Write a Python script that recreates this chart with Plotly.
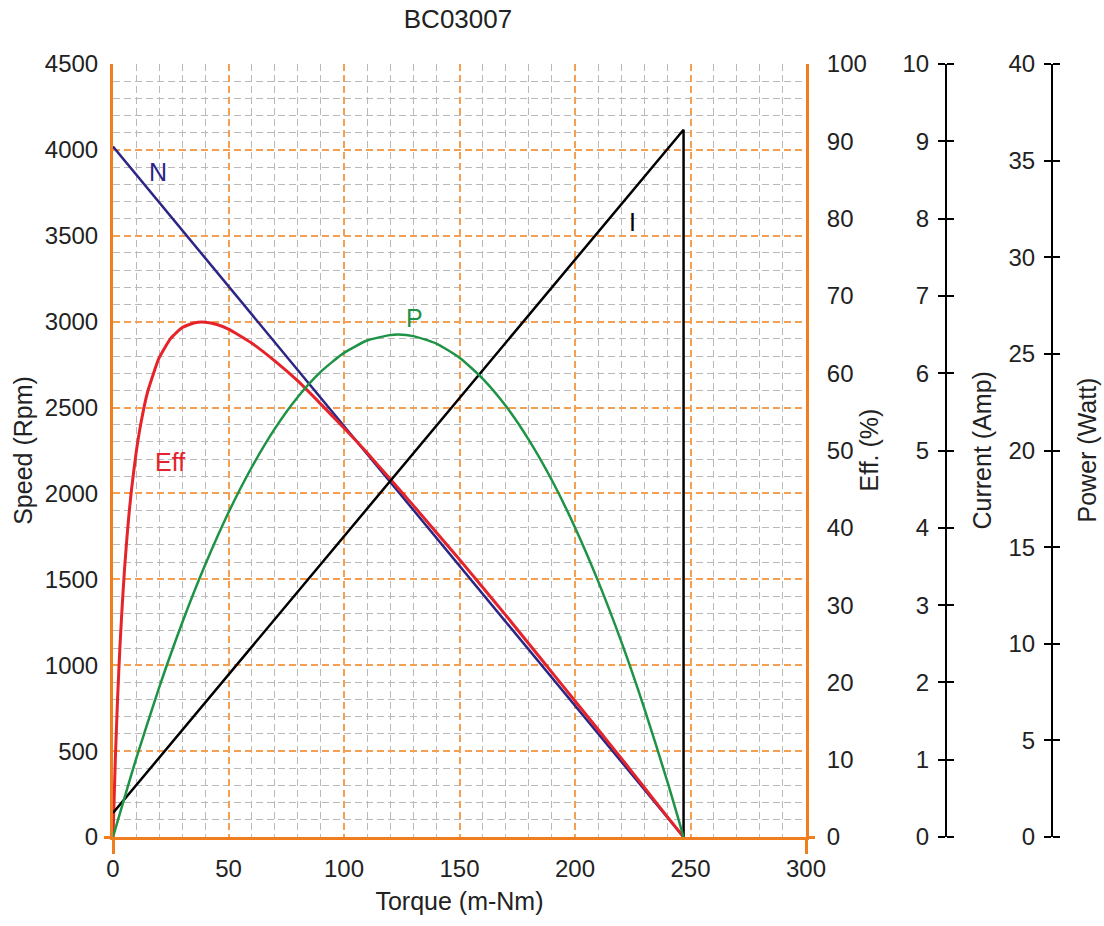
import plotly.graph_objects as go

# Motor performance curves for the BC03007 drive
torque_line = [0, 247]            # m-Nm
speed_rpm = [4020, 0]             # no-load speed to stall

current_torque = [0, 247, 247]    # current rises linearly, drops at stall
current_amp = [0.31, 9.15, 0]

eff_torque = [0, 1, 2, 3, 4, 5, 6, 7, 8, 10, 12, 15, 20, 25, 30, 35, 40, 45, 50,
              60, 70, 80, 90, 100, 110, 120, 130, 140, 150, 160, 170, 180, 190,
              200, 210, 220, 230, 240, 247]
eff_pct = [0, 10.0, 18.0, 24.6, 30.0, 34.7, 38.6, 42.0, 44.9, 49.7, 53.4, 57.6,
           62.0, 64.5, 65.9, 66.5, 66.6, 66.3, 65.7, 63.9, 61.6, 59.0, 56.0,
           52.9, 49.7, 46.3, 42.9, 39.4, 35.9, 32.3, 28.7, 25.0, 21.3, 17.6,
           13.9, 10.2, 6.4, 2.6, 0]

power_torque = [0, 10, 20, 30, 40, 50, 60, 70, 80, 90, 100, 110, 120, 123.5,
                130, 140, 150, 160, 170, 180, 190, 200, 210, 220, 230, 240, 247]
power_w = [0, 4.04, 7.74, 11.10, 14.11, 16.79, 19.12, 21.12, 22.77, 24.08,
           25.05, 25.69, 25.97, 26.0, 25.92, 25.53, 24.80, 23.72, 22.31, 20.55,
           18.46, 16.02, 13.24, 10.12, 6.66, 2.86, 0]

speed_ticks = list(range(0, 4501, 500))
torque_ticks = list(range(0, 301, 50))

ORANGE = "#f07d1e"
ORANGE_GRID = "#f3a055"
GRAY_GRID = "#b9b9b9"
TXT = "#222222"
FONT = "Liberation Sans, Arial, sans-serif"
TICK_SIZE = 24
TITLE_SIZE = 25

NAVY = "#2b2585"
RED = "#e5232b"
GREEN = "#1e9346"
CLEAR = "rgba(0,0,0,0)"

# plot area spans 113..806 px horizontally inside a 113..1060 px paper region
PAPER_W = 1104 - 113 - 44
X_END = 693 / PAPER_W
CUR_POS = (946 - 113) / PAPER_W
PWR_POS = (1052 - 113) / PAPER_W


def px(x_pixel):
    return (x_pixel - 113) / PAPER_W


fig = go.Figure()

fig.add_trace(go.Scatter(x=current_torque, y=current_amp, yaxis="y3", mode="lines",
                         line=dict(color="black", width=2.5), hoverinfo="skip"))
fig.add_trace(go.Scatter(x=power_torque, y=power_w, yaxis="y5", mode="lines",
                         line=dict(color=GREEN, width=2.5, shape="spline", smoothing=0.6),
                         hoverinfo="skip"))
fig.add_trace(go.Scatter(x=torque_line, y=speed_rpm, yaxis="y", mode="lines",
                         line=dict(color=NAVY, width=2.5), hoverinfo="skip"))
fig.add_trace(go.Scatter(x=eff_torque, y=eff_pct, yaxis="y2", mode="lines",
                         line=dict(color=RED, width=3, shape="spline", smoothing=0.5),
                         hoverinfo="skip"))

# transparent carriers so the helper axes (cross ticks, corner ticks) get drawn
for xa, ya, xs, ys in [("x", "y4", current_torque, current_amp),
                       ("x", "y6", power_torque, power_w),
                       ("x", "y7", torque_line, speed_rpm),
                       ("x", "y8", eff_torque, eff_pct),
                       ("x2", "y", torque_line, speed_rpm)]:
    fig.add_trace(go.Scatter(x=xs, y=ys, xaxis=xa, yaxis=ya, mode="lines",
                             line=dict(color=CLEAR, width=0), hoverinfo="skip"))

tickfont = dict(family=FONT, size=TICK_SIZE, color=TXT)
titlefont = dict(family=FONT, size=TITLE_SIZE, color=TXT)

fig.update_layout(
    width=1104, height=926,
    margin=dict(l=113, r=44, t=64, b=89),
    paper_bgcolor="white", plot_bgcolor="white",
    showlegend=False,
    title=dict(text="BC03007", x=px(458), xref="paper", xanchor="center",
               y=1 - 19 / 926, yref="container", yanchor="middle",
               font=dict(family=FONT, size=26, color=TXT)),
    xaxis=dict(domain=[0, X_END], range=[0, 300], tickvals=torque_ticks,
               showgrid=True, gridcolor=ORANGE_GRID, gridwidth=1.5, griddash="7px,4px",
               minor=dict(dtick=10, ticks="", showgrid=True, gridcolor=GRAY_GRID,
                          gridwidth=1.2, griddash="7px,4px"),
               showline=True, linecolor=ORANGE, linewidth=3, zeroline=False,
               ticks="", ticklabelstandoff=8, tickfont=tickfont,
               title=dict(text="Torque (m-Nm)", font=titlefont, standoff=12)),
    # short corner ticks at the ends of the torque axis
    xaxis2=dict(overlaying="x", matches="x", anchor="y", side="bottom",
                tickvals=[0, 300], ticks="outside", ticklen=16, tickwidth=3,
                tickcolor=ORANGE, showticklabels=False, showgrid=False,
                zeroline=False, showline=False),
    yaxis=dict(range=[0, 4500], tickvals=speed_ticks,
               showgrid=True, gridcolor=ORANGE_GRID, gridwidth=1.5, griddash="7px,4px",
               minor=dict(dtick=100, ticks="", showgrid=True, gridcolor=GRAY_GRID,
                          gridwidth=1.2, griddash="7px,4px"),
               showline=True, linecolor=ORANGE, linewidth=3, zeroline=False,
               ticks="", ticklabelstandoff=7, tickfont=tickfont,
               title=dict(text="Speed (Rpm)", font=titlefont, standoff=6)),
    yaxis2=dict(overlaying="y", anchor="x", side="right", range=[0, 100], dtick=10,
                showgrid=False, zeroline=False, showline=True, linecolor=ORANGE,
                linewidth=3, ticks="", ticklabelstandoff=13, tickfont=tickfont),
    yaxis3=dict(overlaying="y", anchor="free", position=CUR_POS, side="left",
                range=[0, 10], dtick=1, showgrid=False, zeroline=False,
                showline=True, linecolor="black", linewidth=2,
                ticks="outside", ticklen=7, tickwidth=2, tickcolor="black",
                ticklabelstandoff=4, tickfont=tickfont),
    yaxis4=dict(overlaying="y", anchor="free", position=CUR_POS, side="right",
                range=[0, 10], dtick=1, showgrid=False, zeroline=False,
                showline=False, ticks="outside", ticklen=7, tickwidth=2,
                tickcolor="black", showticklabels=False),
    yaxis5=dict(overlaying="y", anchor="free", position=PWR_POS, side="left",
                range=[0, 40], dtick=5, showgrid=False, zeroline=False,
                showline=True, linecolor="black", linewidth=2,
                ticks="outside", ticklen=7, tickwidth=2, tickcolor="black",
                ticklabelstandoff=4, tickfont=tickfont),
    yaxis6=dict(overlaying="y", anchor="free", position=PWR_POS, side="right",
                range=[0, 40], dtick=5, showgrid=False, zeroline=False,
                showline=False, ticks="outside", ticklen=7, tickwidth=2,
                tickcolor="black", showticklabels=False),
    # corner ticks where the speed and efficiency axes meet the torque axis
    yaxis7=dict(overlaying="y", anchor="x", side="left", range=[0, 4500],
                tickvals=[0], ticks="outside", ticklen=8, tickwidth=3,
                tickcolor=ORANGE, showticklabels=False, showgrid=False,
                zeroline=False, showline=False),
    yaxis8=dict(overlaying="y", anchor="x", side="right", range=[0, 100],
                tickvals=[0], ticks="outside", ticklen=8, tickwidth=3,
                tickcolor=ORANGE, showticklabels=False, showgrid=False,
                zeroline=False, showline=False),
)

# titles of the right-hand scales
for text, xpix in [("Eff. (%)", 868), ("Current (Amp)", 981), ("Power (Watt)", 1086)]:
    fig.add_annotation(x=px(xpix), y=0.5, xref="paper", yref="paper", text=text,
                       textangle=-90, showarrow=False, xanchor="center", yanchor="middle",
                       font=titlefont)

# curve labels
labels = [("N", 19.5, 3871, NAVY), ("I", 224.7, 3580, "black"),
          ("P", 130.7, 3021, GREEN), ("Eff", 24.7, 2183, RED)]
for text, tx, ty, col in labels:
    fig.add_annotation(x=tx, y=ty, xref="x", yref="y", text=text, showarrow=False,
                       font=dict(family=FONT, size=25, color=col))

fig.write_html("out.html")
